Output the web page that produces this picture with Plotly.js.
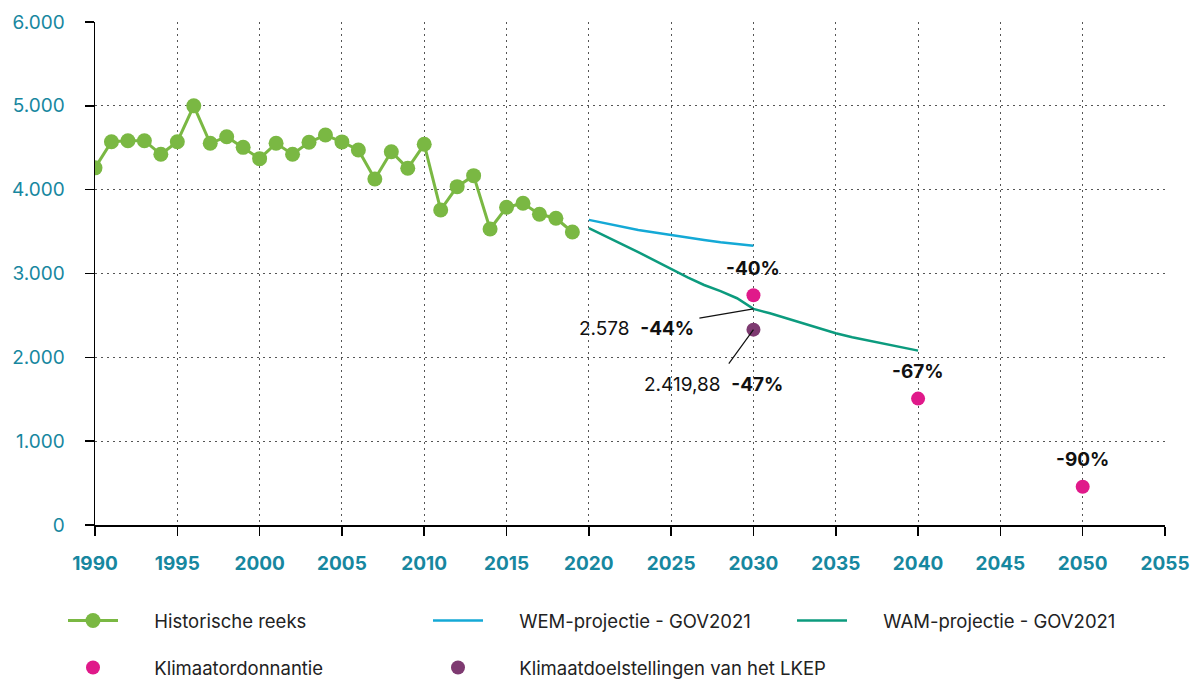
<!DOCTYPE html>
<html><head><meta charset="utf-8">
<script src="https://cdn.plot.ly/plotly-3.0.1.min.js"></script>
<style>html,body{margin:0;padding:0;background:#fff}#chart{width:1195px;height:680px}</style>
</head><body><div id="chart"></div><script>
const histYears = [1990,1991,1992,1993,1994,1995,1996,1997,1998,1999,2000,2001,2002,2003,2004,2005,2006,2007,2008,2009,2010,2011,2012,2013,2014,2015,2016,2017,2018,2019];
const histValues = [4260,4572,4584,4584,4422,4572,5000,4553,4632,4505,4370,4553,4422,4565,4652,4570,4473,4127,4453,4255,4541,3758,4036,4167,3531,3790,3838,3706,3659,3495];
const wemYears = [2020,2021,2022,2023,2024,2025,2026,2027,2028,2029,2030];
const wemValues = [3640,3600,3560,3520,3490,3463,3432,3400,3372,3348,3330];
const wamYears = [2020,2021,2022,2023,2024,2025,2026,2027,2028,2029,2030,2031,2032,2033,2034,2035,2036,2037,2038,2039,2040];
const wamValues = [3540,3440,3350,3255,3155,3050,2955,2863,2790,2705,2578,2525,2466,2413,2347,2287,2239,2199,2167,2127,2080];
const ordYears = [2030,2040,2050];
const ordValues = [2741,1508,457];
const ordLabels = ['-40%','-67%','-90%'];
const lkepYears = [2030];
const lkepValues = [2330];
const wamLabel = '2.578  <b>-44%</b>';
const lkepLabel = '2.419,88  <b>-47%</b>';
const seriesNames = ['Historische reeks','WEM-projectie - GOV2021','WAM-projectie - GOV2021','Klimaatordonnantie','Klimaatdoelstellingen van het LKEP'];

const FONT = 'Inter, "DejaVu Sans", sans-serif';
const TEAL = '#17879f';
const PAD = '\u00a0\u00a0\u00a0\u00a0\u00a0\u00a0';

const traces = [
  {x: histYears, y: histValues, name: PAD+seriesNames[0], type:'scatter', mode:'lines+markers',
   line:{color:'#7ab843', width:3}, marker:{color:'#7ab843', size:15}, legend:'legend'},
  {x: wemYears, y: wemValues, name: PAD+seriesNames[1], type:'scatter', mode:'lines',
   line:{color:'#14a9d6', width:2.5}, legend:'legend2'},
  {x: wamYears, y: wamValues, name: PAD+seriesNames[2], type:'scatter', mode:'lines',
   line:{color:'#0c9b7e', width:2.5}, legend:'legend3'},
  {x: ordYears, y: ordValues, name: PAD+seriesNames[3], type:'scatter', mode:'markers',
   marker:{color:'#e0198a', size:14}, legend:'legend4'},
  {x: lkepYears, y: lkepValues, name: PAD+seriesNames[4], type:'scatter', mode:'markers',
   marker:{color:'#7e3a71', size:14}, legend:'legend5'}
];

const annotations = [];
ordYears.forEach((yr,i)=>{
  annotations.push({x: yr, y: ordValues[i], text: '<b>'+ordLabels[i]+'</b>', showarrow:false, yshift:27,
    font:{family:FONT, size:19, color:'#111'}});
});
annotations.push({x: wamYears[10], y: wamValues[10], text: wamLabel, showarrow:true, arrowhead:0, arrowwidth:1.2,
  arrowcolor:'#111', ax:-117, ay:20, standoff:0, startstandoff:4, font:{family:FONT, size:19, color:'#111'}});
annotations.push({x: lkepYears[0], y: lkepValues[0], text: lkepLabel, showarrow:true, arrowhead:0, arrowwidth:1.2,
  arrowcolor:'#111', ax:-40, ay:55, standoff:0, startstandoff:10, font:{family:FONT, size:19, color:'#111'}});

const axisCommon = {showline:true, linecolor:'#000', linewidth:1.5, ticks:'outside', ticklen:9, tickwidth:1.5,
  tickcolor:'#000', showgrid:true, gridcolor:'#555', griddash:'2px,4px', gridwidth:1, zeroline:false};

function leg(xp, ypx){
  return {orientation:'h', x:(xp-95)/1070, xanchor:'left', y:(525-ypx)/503, yanchor:'middle',
    itemwidth:50, font:{family:FONT, size:18.5, color:'#222'}, bgcolor:'rgba(0,0,0,0)'};
}

const layout = {
  width:1195, height:680, paper_bgcolor:'#fff', plot_bgcolor:'#fff',
  margin:{l:95, r:30, t:22, b:155, autoexpand:false},
  separators:',.',
  font:{family:FONT, color:'#111'},
  showlegend:true,
  xaxis: Object.assign({}, axisCommon, {range:[1990,2055], tick0:1990, dtick:5, ticklabelstandoff:12,
    tickfont:{family:FONT, size:19, color:TEAL, weight:'bold'}}),
  yaxis: Object.assign({}, axisCommon, {range:[0,6000], dtick:1000, tickformat:',', ticklabelstandoff:16,
    tickfont:{family:FONT, size:19, color:TEAL}}),
  legend: leg(63, 621),
  legend2: leg(428, 621),
  legend3: leg(792, 621),
  legend4: leg(63, 668),
  legend5: leg(428, 668),
  annotations: annotations
};

Plotly.newPlot('chart', traces, layout, {displayModeBar:false, staticPlot:true});
</script></body></html>
